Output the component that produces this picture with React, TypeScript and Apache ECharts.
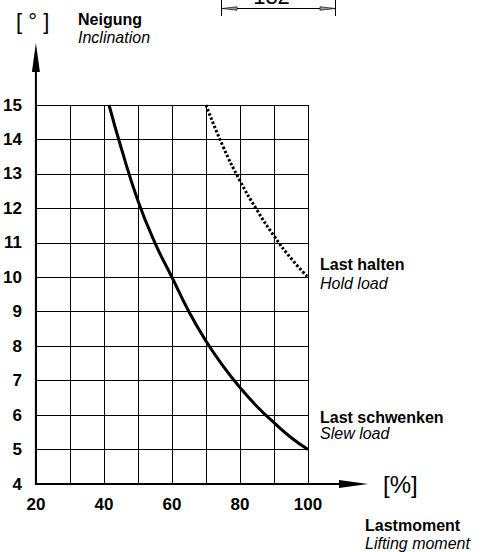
import React, { useEffect, useRef } from "react";
import * as echarts from "echarts";

// ---- data ----
const xMin = 20;
const xMax = 100;
const xStep = 10;
const xLabelValues = [20, 40, 60, 80, 100];
const yMin = 4;
const yMax = 15;
const yStep = 1;

// "Last schwenken / Slew load" (solid): lifting moment [%] -> inclination [°]
const slewLoadX = [41.5, 45, 50, 55, 60, 65, 70, 75, 80, 85, 90, 95, 100];
const slewLoadY = [15, 13.78, 12.22, 11.0, 10.0, 9.0, 8.15, 7.43, 6.8, 6.25, 5.78, 5.35, 5.0];

// "Last halten / Hold load" (dotted)
const holdLoadX = [70, 75, 80, 85, 90, 95, 100];
const holdLoadY = [15, 13.8, 12.8, 11.95, 11.2, 10.55, 10.0];

const FONT = "'Liberation Sans', Arial, Helvetica, sans-serif";

export default function App() {
  const ref = useRef<HTMLDivElement>(null);

  useEffect(() => {
    document.body.style.margin = "0";
    if (!ref.current) return;
    const chart = echarts.init(ref.current, undefined, { renderer: "svg" });

    const slew = slewLoadX.map((x, i) => [x, slewLoadY[i]]);
    const hold = holdLoadX.map((x, i) => [x, holdLoadY[i]]);

    chart.setOption({
      animation: false,
      backgroundColor: "#fff",
      grid: { left: 33, right: 177, top: 105, bottom: 68, containLabel: false },
      xAxis: {
        type: "value",
        min: xMin,
        max: xMax,
        interval: xStep,
        axisLine: { show: false },
        axisTick: { show: false },
        splitLine: { show: true, lineStyle: { color: "#000", width: 1 } },
        axisLabel: {
          margin: 12,
          color: "#000",
          fontSize: 17,
          fontWeight: "bold",
          fontFamily: FONT,
          formatter: (v: number) => (xLabelValues.includes(v) ? String(v) : ""),
        },
      },
      yAxis: {
        type: "value",
        min: yMin,
        max: yMax,
        interval: yStep,
        axisLine: { show: false },
        axisTick: { show: false },
        splitLine: { show: true, lineStyle: { color: "#000", width: 1 } },
        axisLabel: {
          margin: 14,
          color: "#000",
          fontSize: 17,
          fontWeight: "bold",
          fontFamily: FONT,
        },
      },
      series: [
        {
          name: "Slew load",
          type: "line",
          data: slew,
          showSymbol: false,
          smooth: 0.5,
          lineStyle: { color: "#000", width: 3 },
          z: 5,
        },
        {
          name: "Hold load",
          type: "line",
          data: hold,
          showSymbol: false,
          smooth: 0.5,
          lineStyle: { color: "#000", width: 3, type: [2.5, 2] },
          z: 5,
        },
      ],
    });

    const o = chart.convertToPixel({ gridIndex: 0 }, [xMin, yMin]) as number[];
    const ox = o[0];
    const oy = o[1];

    const text = (
      x: number,
      y: number,
      t: string,
      opts: { size?: number; weight?: string; style?: string; align?: string } = {}
    ) => ({
      type: "text",
      x,
      y,
      z: 20,
      style: {
        text: t,
        fill: "#000",
        fontFamily: FONT,
        fontSize: opts.size ?? 16,
        fontWeight: opts.weight ?? "normal",
        fontStyle: opts.style ?? "normal",
        textAlign: opts.align ?? "left",
        textVerticalAlign: "middle",
      },
    });

    chart.setOption({
      graphic: [
        // axes with arrows
        { type: "line", z: 10, shape: { x1: ox, y1: oy + 1, x2: ox, y2: 68 }, style: { stroke: "#000", lineWidth: 2 } },
        { type: "polygon", z: 10, shape: { points: [[ox, 43], [ox - 4, 72], [ox + 4, 72]] }, style: { fill: "#000" } },
        { type: "line", z: 10, shape: { x1: ox - 1, y1: oy, x2: 342, y2: oy }, style: { stroke: "#000", lineWidth: 2 } },
        { type: "polygon", z: 10, shape: { points: [[368, oy], [339, oy - 4], [339, oy + 4]] }, style: { fill: "#000" } },

        // dimension at top
        { type: "line", shape: { x1: 221.5, y1: 0, x2: 221.5, y2: 16 }, style: { stroke: "#000", lineWidth: 1 } },
        { type: "line", shape: { x1: 335.5, y1: 0, x2: 335.5, y2: 16 }, style: { stroke: "#000", lineWidth: 1 } },
        { type: "line", shape: { x1: 222, y1: 8.5, x2: 335, y2: 8.5 }, style: { stroke: "#000", lineWidth: 1 } },
        { type: "polygon", shape: { points: [[222, 8.5], [237, 6.8], [237, 10.2]] }, style: { fill: "#999", stroke: "#222", lineWidth: 0.8 } },
        { type: "polygon", shape: { points: [[335, 8.5], [320, 6.8], [320, 10.2]] }, style: { fill: "#999", stroke: "#222", lineWidth: 0.8 } },
        {
          type: "text",
          x: 271.5,
          y: -4,
          style: { text: "132", fill: "#000", fontFamily: FONT, fontSize: 22, fontWeight: "lighter", textAlign: "center", textVerticalAlign: "middle" },
        },

        // unit labels
        text(16, 21, "[ ° ]", { size: 22 }),
        text(78, 19.3, "Neigung", { weight: "bold" }),
        text(78, 37.6, "Inclination", { style: "italic" }),

        text(383, 484, "[%]", { size: 24 }),
        text(365, 525.3, "Lastmoment", { weight: "bold" }),
        text(365, 543.3, "Lifting moment", { style: "italic" }),

        // curve labels
        text(320, 264.3, "Last halten", { weight: "bold" }),
        text(320, 283.3, "Hold load", { style: "italic" }),
        text(320, 417.3, "Last schwenken", { weight: "bold" }),
        text(320, 433.8, "Slew load", { style: "italic" }),
      ],
    });

    return () => chart.dispose();
  }, []);

  return <div ref={ref} style={{ width: 485, height: 552 }} />;
}
